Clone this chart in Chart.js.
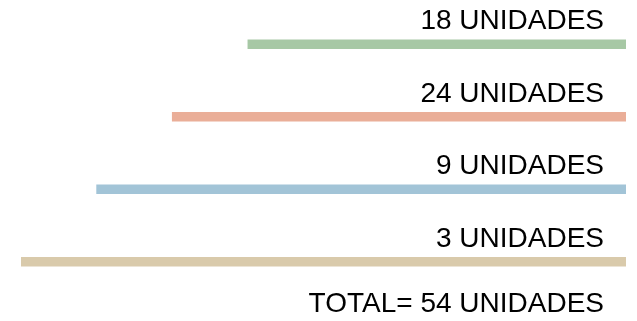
<!DOCTYPE html>
<html lang="es">
<head>
<meta charset="utf-8">
<title>Unidades</title>
<script src="https://cdn.jsdelivr.net/npm/chart.js@4/dist/chart.umd.min.js"></script>
<style>
  html, body { margin: 0; padding: 0; background: #ffffff; }
  #wrap { width: 637px; height: 321px; }
</style>
</head>
<body>
<div id="wrap"><canvas id="grafico"></canvas></div>
<script>
// Grupos, unidades de cada grupo y escalón de la barra que subraya cada rótulo
const grupos = ['Grupo 1', 'Grupo 2', 'Grupo 3', 'Grupo 4'];
const unidades = [18, 24, 9, 3];
const escalones = [5, 6, 7, 8];
const maxEscalon = 8;
const sufijo = 'UNIDADES';

const colores = ['#a7c8a5', '#eaae98', '#a2c4d7', '#d9caab'];
const fuente = '"Liberation Sans", Arial, sans-serif';
const total = unidades.reduce((a, b) => a + b, 0);

// Rótulos sobre cada barra y total al pie, alineados a la derecha
const rotulos = {
  id: 'rotulos',
  afterDatasetsDraw(chart) {
    const { ctx, chartArea } = chart;
    const meta = chart.getDatasetMeta(0);
    const xTexto = chartArea.right - 22;
    ctx.save();
    ctx.fillStyle = '#000000';
    ctx.font = '28px ' + fuente;
    ctx.textAlign = 'right';
    ctx.textBaseline = 'alphabetic';
    meta.data.forEach((barra, i) => {
      ctx.fillText(unidades[i] + ' ' + sufijo, xTexto, barra.y - 15);
    });
    ctx.fillText('TOTAL= ' + total + ' ' + sufijo, xTexto, chartArea.bottom + 14);
    ctx.restore();
  }
};

new Chart(document.getElementById('grafico'), {
  type: 'bar',
  data: {
    labels: grupos,
    datasets: [{
      data: escalones,
      backgroundColor: colores,
      borderWidth: 0,
      barThickness: 9
    }]
  },
  options: {
    indexAxis: 'y',
    responsive: true,
    maintainAspectRatio: false,
    animation: false,
    layout: { padding: { left: 21, right: 11, top: 8, bottom: 23 } },
    scales: {
      x: { display: false, min: 0, max: maxEscalon, reverse: true },
      y: { display: false }
    },
    plugins: {
      legend: { display: false },
      tooltip: { enabled: false }
    }
  },
  plugins: [rotulos]
});
</script>
</body>
</html>
